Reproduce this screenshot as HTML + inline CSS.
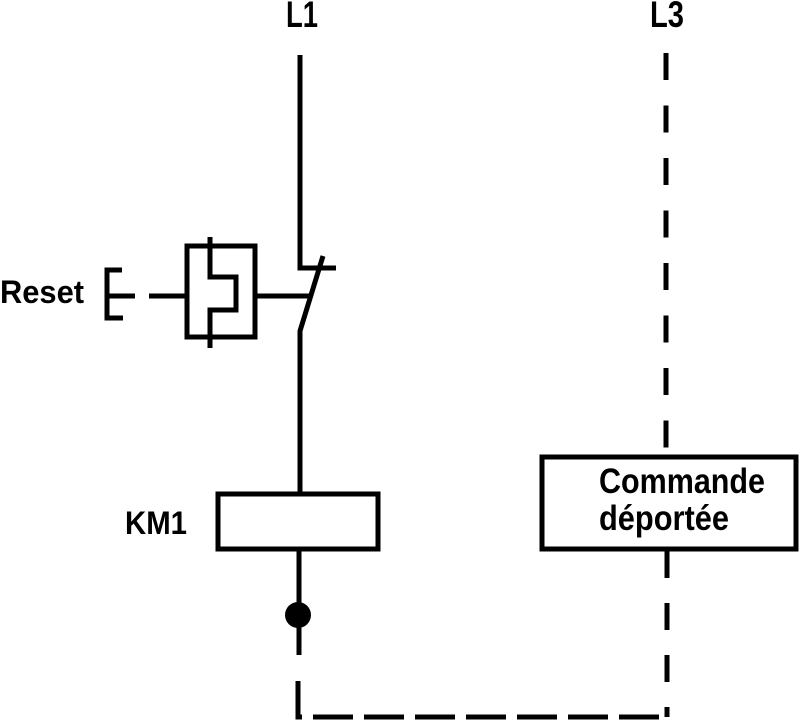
<!DOCTYPE html>
<html><head><style>html,body{margin:0;padding:0;background:#fff;}svg{display:block;}</style></head>
<body>
<svg width="800" height="721" viewBox="0 0 800 721" xmlns="http://www.w3.org/2000/svg">
<g font-family="Liberation Sans, sans-serif" font-weight="bold" fill="#000">
<text x="286" y="27" font-size="37" textLength="32" lengthAdjust="spacingAndGlyphs">L1</text>
<text x="650" y="27" font-size="37" textLength="34" lengthAdjust="spacingAndGlyphs">L3</text>
<text x="0" y="303" font-size="32" textLength="84" lengthAdjust="spacingAndGlyphs">Reset</text>
<text x="125" y="534" font-size="32" textLength="62" lengthAdjust="spacingAndGlyphs">KM1</text>
<text x="599" y="493" font-size="35" textLength="166" lengthAdjust="spacingAndGlyphs">Commande</text>
<text x="599" y="530" font-size="35" textLength="130" lengthAdjust="spacingAndGlyphs">déportée</text>
</g>
<g stroke="#000" stroke-width="5" fill="none">
<path d="M300 55 V268 H336"/>
<path d="M323 256 L300 331 V493"/>
<path d="M122 270 H107 V318 H123 M107 296 H135"/>
<path d="M149 296 H187 M256 296 H310"/>
<rect x="187" y="246" width="68" height="91"/>
<path d="M210 237 V277 H236 V310 H210 V348"/>
<rect x="218" y="494" width="160" height="55"/>
<path d="M299 549 V655"/>
<rect x="542" y="457" width="254" height="92"/>
<path d="M666 53 V455" stroke-dasharray="27 25.5"/>
<path d="M667 551 V717" stroke-dasharray="27 25"/>
<path d="M298 681 V717 H668" stroke-dasharray="40 11"/>
</g>
<circle cx="298" cy="615" r="13" fill="#000"/>
</svg>
</body></html>
